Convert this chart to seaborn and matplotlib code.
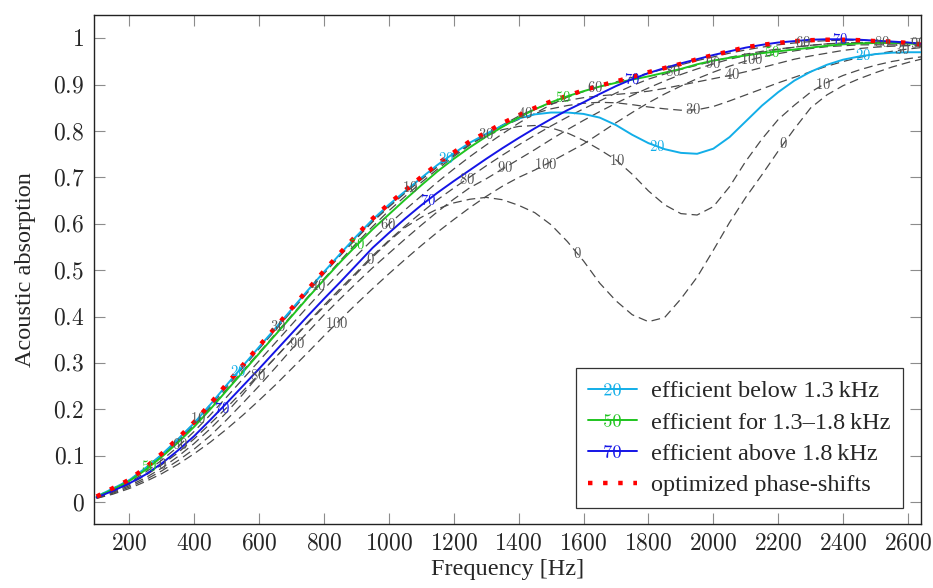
import numpy as np
import pandas as pd
import matplotlib
matplotlib.use("Agg")
import matplotlib.pyplot as plt
import seaborn as sns
from matplotlib.lines import Line2D

# frequency grid [Hz]
freq = [100, 150, 200, 250, 300, 350, 400, 450, 500, 550,
        600, 650, 700, 750, 800, 850, 900, 950, 1000, 1050,
        1100, 1150, 1200, 1250, 1300, 1350, 1400, 1450, 1500, 1550,
        1600, 1650, 1700, 1750, 1800, 1850, 1900, 1950, 2000, 2050,
        2100, 2150, 2200, 2250, 2300, 2350, 2400, 2450, 2500, 2550,
        2600, 2640]

# absorption for each phase-shift configuration
phase_0 = [.010, .023, .038, .057, .080, .106, .136, .169, .203, .239,
           .275, .311, .348, .385, .421, .456, .492, .528, .562, .592,
           .614, .632, .645, .653, .657, .652, .640, .624, .598, .562,
           .520, .472, .434, .404, .389, .398, .438, .485, .543, .603,
           .657, .706, .757, .805, .850, .878, .898, .913, .926, .938,
           .948, .955]
phase_10 = [.012, .029, .047, .073, .102, .135, .170, .210, .251, .292,
            .333, .373, .414, .455, .494, .533, .570, .606, .638, .668,
            .697, .724, .750, .773, .790, .803, .810, .812, .807, .796,
            .780, .760, .738, .707, .671, .641, .622, .619, .637, .680,
            .735, .783, .825, .856, .884, .905, .920, .932, .942, .950,
            .956, .960]
phase_20 = [.012, .029, .047, .073, .102, .135, .170, .210, .252, .293,
            .334, .374, .415, .456, .496, .535, .573, .609, .641, .670,
            .699, .727, .752, .775, .794, .812, .827, .836, .840, .840,
            .837, .829, .813, .792, .774, .761, .753, .751, .762, .787,
            .821, .855, .884, .909, .928, .943, .954, .961, .966, .969,
            .970, .970]
phase_30 = [.012, .029, .047, .072, .101, .133, .168, .207, .248, .289,
            .330, .370, .411, .452, .492, .531, .568, .604, .636, .666,
            .695, .723, .748, .772, .793, .810, .825, .838, .848, .855,
            .860, .862, .861, .857, .852, .848, .845, .846, .853, .865,
            .878, .891, .904, .916, .928, .940, .950, .959, .966, .972,
            .977, .980]
phase_40 = [.011, .028, .046, .071, .099, .131, .165, .203, .243, .283,
            .322, .362, .402, .442, .481, .520, .558, .594, .628, .659,
            .689, .718, .745, .770, .792, .813, .832, .848, .859, .866,
            .872, .876, .879, .882, .886, .892, .899, .906, .913, .920,
            .928, .937, .946, .955, .962, .968, .974, .978, .981, .983,
            .984, .984]
phase_50 = [.011, .027, .045, .069, .097, .128, .162, .200, .240, .280,
            .320, .360, .400, .440, .479, .517, .553, .588, .620, .652,
            .683, .713, .740, .765, .788, .809, .829, .847, .862, .875,
            .886, .896, .904, .911, .918, .926, .934, .944, .952, .958,
            .963, .968, .972, .976, .980, .984, .987, .989, .990, .990,
            .989, .987]
phase_60 = [.010, .025, .042, .064, .090, .119, .152, .188, .226, .265,
            .304, .343, .382, .421, .459, .496, .531, .566, .599, .630,
            .660, .690, .718, .745, .770, .794, .817, .838, .857, .873,
            .885, .896, .906, .916, .925, .934, .943, .952, .960, .968,
            .975, .981, .986, .990, .993, .995, .996, .996, .995, .993,
            .991, .989]
phase_70 = [.010, .024, .040, .059, .083, .111, .142, .177, .213, .250,
            .287, .325, .363, .401, .438, .474, .511, .548, .580, .611,
            .640, .667, .692, .716, .740, .763, .785, .806, .826, .845,
            .862, .880, .897, .912, .925, .936, .946, .955, .964, .972,
            .980, .986, .991, .994, .997, .998, .998, .997, .995, .993,
            .991, .988]
phase_80 = [.009, .021, .035, .052, .073, .098, .126, .158, .193, .232,
            .274, .311, .349, .387, .424, .460, .495, .531, .564, .595,
            .624, .652, .677, .701, .725, .748, .770, .791, .811, .830,
            .848, .865, .882, .898, .912, .923, .933, .942, .951, .959,
            .966, .972, .977, .981, .985, .988, .990, .991, .991, .991,
            .990, .988]
phase_90 = [.008, .019, .032, .048, .067, .089, .114, .143, .177, .213,
            .250, .289, .329, .366, .403, .438, .472, .505, .536, .567,
            .597, .626, .653, .678, .697, .718, .739, .760, .782, .803,
            .823, .842, .860, .877, .893, .908, .922, .934, .945, .955,
            .963, .970, .976, .981, .985, .988, .990, .991, .991, .991,
            .990, .988]
phase_100 = [.008, .017, .029, .044, .061, .081, .104, .129, .157, .187,
             .219, .252, .287, .322, .358, .393, .427, .460, .492, .523,
             .553, .582, .609, .635, .659, .681, .700, .716, .734, .753,
             .772, .795, .818, .840, .861, .880, .897, .913, .927, .940,
             .951, .960, .967, .973, .978, .982, .984, .986, .986, .986,
             .985, .983]
optimized = [.012, .030, .048, .074, .104, .137, .172, .212, .254, .295,
             .336, .376, .417, .458, .498, .537, .575, .611, .643, .672,
             .701, .729, .754, .778, .797, .817, .834, .850, .864, .876,
             .888, .898, .907, .917, .927, .936, .945, .955, .964, .972,
             .981, .986, .990, .994, .996, .997, .997, .996, .994, .993,
             .990, .987]

# frequencies where the inline curve labels sit
label_freqs = {
    0: [302, 942, 1580, 2216],
    10: [413, 1066, 1702, 2339],
    20: [537, 1178, 1826, 2462],
    30: [660, 1300, 1939, 2580],
    40: [783, 1420, 2057],
    50: [262, 902, 1537, 2180],
    60: [358, 998, 1636, 2277],
    70: [485, 1121, 1750, 2390],
    80: [598, 1240, 1877, 2519],
    90: [717, 1358, 2000, 2630],
    100: [840, 1482, 2118],
}

xticks = [200, 400, 600, 800, 1000, 1200, 1400, 1600, 1800, 2000, 2200, 2400, 2600]
yticks = [0, 0.1, 0.2, 0.3, 0.4, 0.5, 0.6, 0.7, 0.8, 0.9, 1]
ytick_labels = ["0", "0.1", "0.2", "0.3", "0.4", "0.5", "0.6", "0.7", "0.8", "0.9", "1"]

curves = {0: phase_0, 10: phase_10, 20: phase_20, 30: phase_30, 40: phase_40,
          50: phase_50, 60: phase_60, 70: phase_70, 80: phase_80, 90: phase_90,
          100: phase_100}

df = pd.concat(
    [pd.DataFrame({"freq": freq, "absorption": v, "phase": k}) for k, v in curves.items()],
    ignore_index=True,
)
opt_df = pd.DataFrame({"freq": freq, "absorption": optimized})

CYAN, GREEN, BLUE, GRAY = "#12aee8", "#1fc41f", "#1414e6", "#4a4a4a"
solid = {20: CYAN, 50: GREEN, 70: BLUE}

sns.set_style("ticks")
plt.rcParams["font.family"] = ["Liberation Serif", "DejaVu Serif"]
plt.rcParams["mathtext.fontset"] = "cm"

fig = plt.figure(figsize=(9.33, 5.88), dpi=100)
ax = fig.add_axes([0.1008, 0.1088, 0.8864, 0.8656])

for p in [0, 10, 30, 40, 60, 80, 90, 100]:
    sns.lineplot(data=df[df["phase"] == p], x="freq", y="absorption", ax=ax,
                 color=GRAY, lw=0.9, linestyle=(0, (7, 4)), legend=False, zorder=2)
for p, c in solid.items():
    sns.lineplot(data=df[df["phase"] == p], x="freq", y="absorption", ax=ax,
                 color=c, lw=1.4, legend=False, zorder=3)
sns.lineplot(data=opt_df, x="freq", y="absorption", ax=ax, color="red",
             lw=3.2, linestyle=(0, (1, 2.4)), legend=False, zorder=4)

# inline labels
for p, fl in label_freqs.items():
    col = solid.get(p, "#555555")
    for f in fl:
        yv = np.interp(f, freq, curves[p])
        ax.text(f, yv, f"${p}$", ha="center", va="center", fontsize=10.5,
                color=col, zorder=5, clip_on=True)

ax.set_xlim(92, 2640)
ax.set_ylim(-0.0474, 1.0502)
ax.set_xticks(xticks)
ax.set_xticklabels([f"${t}$" for t in xticks])
ax.set_yticks(yticks)
ax.set_yticklabels([f"${t}$" for t in ytick_labels])
ax.tick_params(direction="in", length=8, width=0.8, color="#8c8c8c",
               top=True, right=True, labelsize=17, pad=7)
for s in ax.spines.values():
    s.set_color("#222222")
    s.set_linewidth(1.0)

ax.set_xlabel("Frequency [Hz]", fontsize=17.5, labelpad=3)
ax.set_ylabel("Acoustic absorption", fontsize=17.5, labelpad=12)

handles = [
    Line2D([], [], color=CYAN, lw=1.4, marker="$20$", markersize=12, markeredgewidth=0),
    Line2D([], [], color=GREEN, lw=1.4, marker="$50$", markersize=12, markeredgewidth=0),
    Line2D([], [], color=BLUE, lw=1.4, marker="$70$", markersize=12, markeredgewidth=0),
    Line2D([], [], color="red", lw=3.2, linestyle=(0, (1, 2.4))),
]
labels = [
    "efficient below 1.3\u2009kHz",
    "efficient for 1.3\u20131.8\u2009kHz",
    "efficient above 1.8\u2009kHz",
    "optimized phase-shifts",
]
leg = ax.legend(handles, labels, loc="lower right", bbox_to_anchor=(0.978, 0.031),
                borderaxespad=0, frameon=True, fancybox=False, edgecolor="#333333",
                framealpha=1, fontsize=17.5, handlelength=2.0, handletextpad=0.6,
                labelspacing=0.38, borderpad=0.5)
leg.get_frame().set_linewidth(0.9)
leg.set_zorder(10)

fig.savefig("out.png", dpi=100)
